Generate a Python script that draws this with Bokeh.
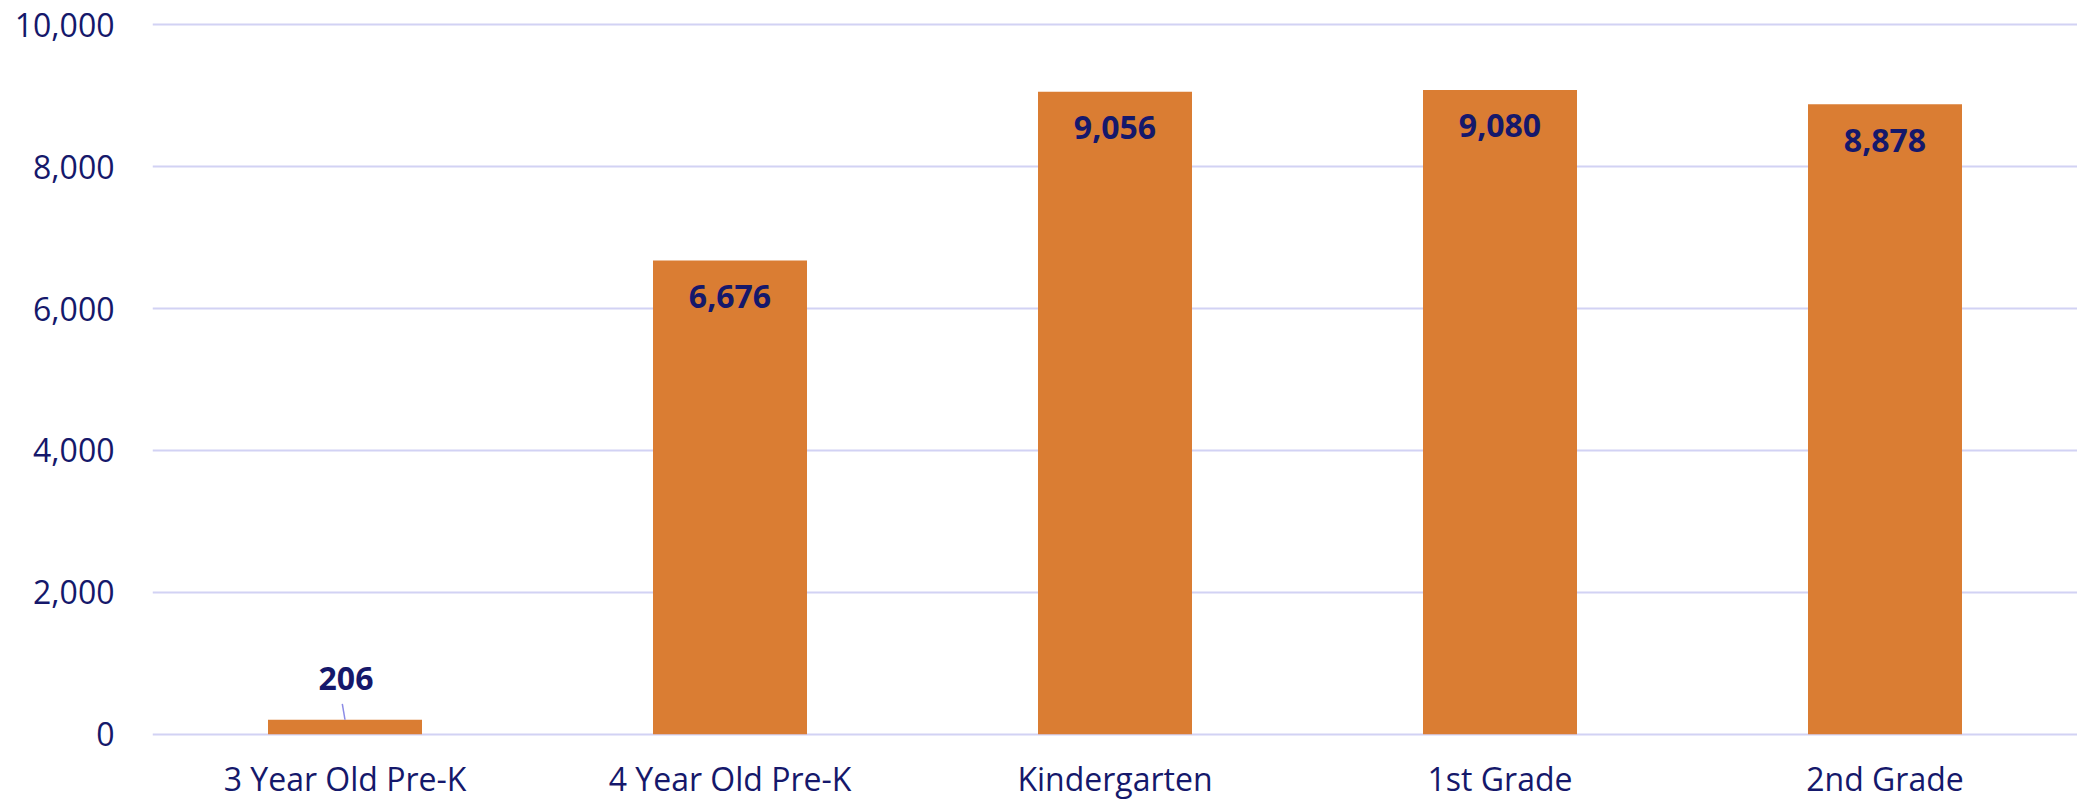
from bokeh.plotting import figure
from bokeh.models import ColumnDataSource, FixedTicker, NumeralTickFormatter, Range1d, FactorRange
from bokeh.core.properties import value
from bokeh.transform import dodge
from bokeh.embed import file_html
from bokeh.resources import INLINE

categories = ["3 Year Old Pre-K", "4 Year Old Pre-K", "Kindergarten", "1st Grade", "2nd Grade"]
counts = [206, 6676, 9056, 9080, 8878]
y_ticks = [0, 2000, 4000, 6000, 8000, 10000]

NAVY = "#15186B"
ORANGE = "#DA7D33"
GRID = "#D2D2F4"
LEADER = "#8C8CE6"
FONT = "Open Sans"

labels = [f"{v:,}" for v in counts]
src = ColumnDataSource(dict(cat=categories, val=counts, lab=labels,
                            zero=[0] * len(categories)))

# small value -> label above the bar with a leader line; others -> inside end
small = [i for i, v in enumerate(counts) if v < 1000]
big = [i for i, v in enumerate(counts) if v >= 1000]
units_per_px = 10000 / 710.0
src_small = ColumnDataSource(dict(cat=[categories[i] for i in small],
                                  val=[counts[i] for i in small],
                                  tip=[counts[i] + 16 * units_per_px for i in small],
                                  lab=[labels[i] for i in small]))
src_big = ColumnDataSource(dict(cat=[categories[i] for i in big],
                                val=[counts[i] for i in big],
                                lab=[labels[i] for i in big]))

xr = FactorRange(*categories, range_padding=0)
xr.factor_padding = 0
p = figure(x_range=xr,
           y_range=Range1d(-30, 10030),
           width=2077, height=800,
           output_backend="svg", toolbar_location=None,
           min_border_left=152, min_border_right=0,
           min_border_top=22, min_border_bottom=64)

p.vbar(x="cat", top="val", width=0.4, source=src, color=ORANGE, line_color=None)

# leader line for the small value
p.segment(x0="cat", y0="val", x1=dodge("cat", -0.007, range=xr), y1="tip",
          source=src_small, line_color=LEADER, line_width=1.5)

p.text(x="cat", y="val", text="lab", source=src_small,
       text_font=value(FONT), text_font_size="32px", text_font_style="bold",
       text_color=NAVY, text_align="center", text_baseline="middle",
       y_offset=-41, x_offset=1)
p.text(x="cat", y="val", text="lab", source=src_big,
       text_font=value(FONT), text_font_size="32px", text_font_style="bold",
       text_color=NAVY, text_align="center", text_baseline="middle",
       y_offset=36)

# category labels drawn below the frame on the categorical scale
p.text(x="cat", y="zero", text="cat", source=src, level="overlay",
       text_font=value(FONT), text_font_size="32px",
       text_color=NAVY, text_align="center", text_baseline="middle",
       y_offset=44)

p.outline_line_color = None
p.background_fill_color = "white"
p.border_fill_color = "white"

p.xgrid.grid_line_color = None
p.ygrid.grid_line_color = GRID
p.ygrid.grid_line_width = 2
p.ygrid.ticker = FixedTicker(ticks=y_ticks)

p.xaxis.visible = False
p.yaxis.ticker = FixedTicker(ticks=y_ticks)
p.yaxis.formatter = NumeralTickFormatter(format="0,0")
ax = p.yaxis[0]
ax.axis_line_color = None
ax.major_tick_line_color = None
ax.minor_tick_line_color = None
ax.major_label_text_font = FONT
ax.major_label_text_font_size = "32px"
ax.major_label_text_color = NAVY
ax.major_label_standoff = 32

open("out.html", "w").write(file_html(p, INLINE))
